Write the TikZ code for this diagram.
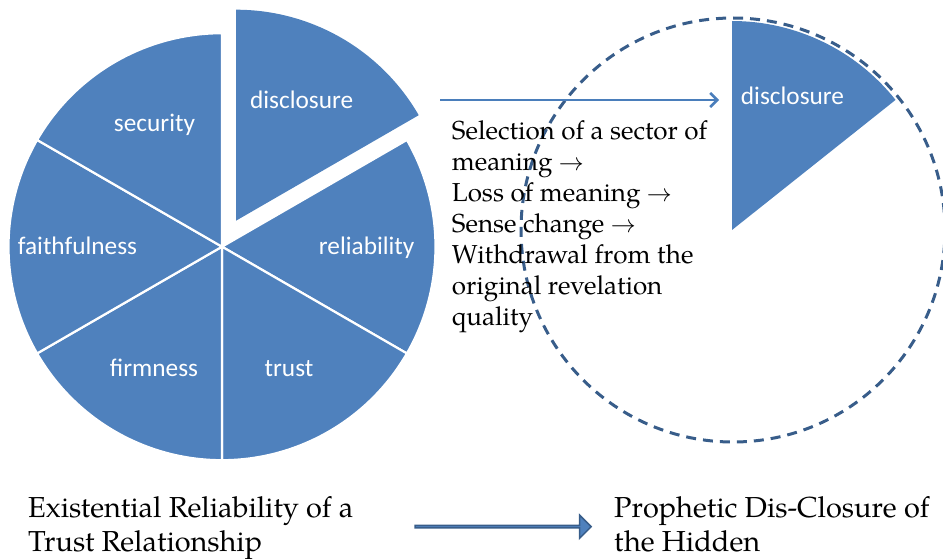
\documentclass[tikz,border=0pt]{standalone}
\usepackage{fontspec}
\usepackage{tikz}
\usetikzlibrary{arrows.meta, positioning, shapes.arrows}
\newfontfamily\labelfont{Carlito}
\newfontfamily\pala{TeX Gyre Pagella}
\definecolor{pieblue}{HTML}{4F81BD}
\definecolor{edgeblue}{HTML}{385D8A}
\definecolor{linkblue}{HTML}{4A7EBB}

\begin{document}
\begin{tikzpicture}[
  x=1pt, y=1pt,
  sector/.style={fill=pieblue, draw=white, line width=2.2pt, line join=round},
  lbl/.style={font=\labelfont\fontsize{25.3}{30}\selectfont, text=white,
              anchor=base, inner sep=0pt},
  note/.style={font=\pala\fontsize{26}{31.1}\selectfont, align=left,
               anchor=north west, inner sep=0pt},
  caption/.style={font=\pala\fontsize{28.9}{33.6}\selectfont, align=left,
                  anchor=north west, inner sep=0pt},
  link/.style={-{Straight Barb[length=7pt, width=14pt]}, line width=2.5pt, color=linkblue},
  bigarrow/.style={single arrow, draw=edgeblue, fill=pieblue, line width=1.5pt,
                   minimum height=176pt, minimum width=23pt,
                   single arrow head extend=6pt, inner sep=0pt}
]
  \useasboundingbox (0,0) rectangle (943,558);

  % left pie, disclosure pulled out
  \coordinate (hub) at (222,311.3);
  \filldraw[sector] (hub) -- ++(-30:213.5) arc[start angle=-30, end angle=30, radius=213.5] -- cycle;
  \filldraw[sector] (hub) -- ++(-90:213.5) arc[start angle=-90, end angle=-30, radius=213.5] -- cycle;
  \filldraw[sector] (hub) -- ++(-150:213.5) arc[start angle=-150, end angle=-90, radius=213.5] -- cycle;
  \filldraw[sector] (hub) -- ++(150:213.5) arc[start angle=150, end angle=210, radius=213.5] -- cycle;
  \filldraw[sector] (hub) -- ++(90:213.5) arc[start angle=90, end angle=150, radius=213.5] -- cycle;
  \coordinate (outhub) at (236,337.3);
  \fill[pieblue] (outhub) -- ++(30:211) arc[start angle=30, end angle=90, radius=211] -- cycle;

  \node[lbl] (disclosure) at (301.7,449) {disclosure};
  \node[lbl] (security) at (154.5,426) {security};
  \node[lbl] (faithfulness) at (77.5,304) {faithfulness};
  \node[lbl] (reliability) at (366.7,304) {reliability};
  \node[lbl] (firmness) at (154,181.3) {firmness};
  \node[lbl] (trust) at (289,181.3) {trust};

  % right side: the one remaining sector inside the dashed whole
  \draw[edgeblue, line width=3pt, dash pattern=on 10pt off 7pt] (733,328) circle[radius=212];
  \fill[pieblue] (732,328) -- ++(38.5:209) arc[start angle=38.5, end angle=90, radius=209] -- cycle;
  \node[lbl] (disclosure2) at (792.5,453) {disclosure};

  \coordinate (linkstart) at (440,458);
  \coordinate (linkend) at (719,458);
  \draw[link] (linkstart) -- (linkend);

  \node[note] (steps) at (451.7,438) {Selection of a sector of\\
    meaning $\rightarrow$\\
    Loss of meaning $\rightarrow$\\
    Sense change $\rightarrow$\\
    Withdrawal from the\\
    original revelation\\
    quality};

  % captions and the block arrow between them
  \node[caption] (existential) at (28,61.5) {Existential Reliability of a\\Trust Relationship};
  \node[bigarrow] (flow) at (502.5,31.3) {};
  \node[caption] (prophetic) at (614,61.5) {Prophetic Dis-Closure of\\the Hidden};
\end{tikzpicture}
\end{document}
